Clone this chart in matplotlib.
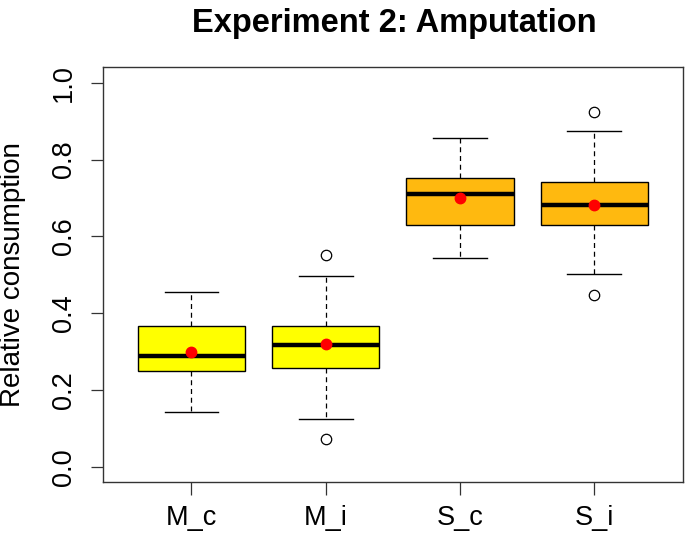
import matplotlib
matplotlib.use("Agg")
import matplotlib.pyplot as plt

categories = ["M_c", "M_i", "S_c", "S_i"]
whisker_low = [0.142, 0.125, 0.544, 0.503]
q1 = [0.249, 0.257, 0.630, 0.630]
median = [0.290, 0.317, 0.710, 0.682]
q3 = [0.368, 0.368, 0.751, 0.741]
whisker_high = [0.456, 0.497, 0.857, 0.874]
means = [0.298, 0.319, 0.700, 0.681]
outliers = [[], [0.073, 0.552], [], [0.447, 0.925]]
box_colors = ["#FFFF00", "#FFFF00", "#FFB90F", "#FFB90F"]
yticks = [0.0, 0.2, 0.4, 0.6, 0.8, 1.0]

plt.rcParams['font.family'] = ['Liberation Sans', 'DejaVu Sans']

fig = plt.figure(figsize=(6.85, 5.34), dpi=100)
ax = fig.add_axes([0.150, 0.0968, 0.847, 0.777])

stats = []
for i, c in enumerate(categories):
    stats.append(dict(label=c, whislo=whisker_low[i], q1=q1[i], med=median[i],
                      q3=q3[i], whishi=whisker_high[i], fliers=outliers[i]))

pos = list(range(1, len(categories) + 1))
bp = ax.bxp(stats, positions=pos, widths=0.8, patch_artist=True, showfliers=True,
            boxprops=dict(edgecolor="black", linewidth=1.0),
            medianprops=dict(color="black", linewidth=3.2, solid_capstyle="butt"),
            whiskerprops=dict(color="black", linewidth=0.9, linestyle=(0, (4, 3))),
            capprops=dict(color="black", linewidth=1.0),
            flierprops=dict(marker="o", markerfacecolor="none", markeredgecolor="black",
                            markersize=7.5, markeredgewidth=0.9),
            capwidths=0.4)
for patch, col in zip(bp["boxes"], box_colors):
    patch.set_facecolor(col)

ax.plot(pos, means, linestyle="none", marker="o", color="red", markersize=7.5, zorder=5)

ax.set_xlim(0.34, 4.66)
ax.set_ylim(-0.04, 1.04)
ax.set_yticks(yticks)
ax.set_yticklabels([f"{v:.1f}" for v in yticks], rotation=90, va="center")
ax.set_xticks(pos)
ax.set_xticklabels(categories)
ax.tick_params(axis="both", labelsize=19.5, length=9, width=0.9, color="#333333")
ax.tick_params(axis="y", pad=9.5)
ax.tick_params(axis="x", pad=7.5)
for s in ax.spines.values():
    s.set_linewidth(1.0)
    s.set_color("#333333")

fig.text(0.0197, 0.485, "Relative consumption", fontsize=20, rotation=90,
         ha="center", va="center")
fig.text(0.575, 0.940, "Experiment 2: Amputation", fontsize=23.5, fontweight="bold",
         ha="center", va="baseline")

fig.savefig("out.png", dpi=100)
